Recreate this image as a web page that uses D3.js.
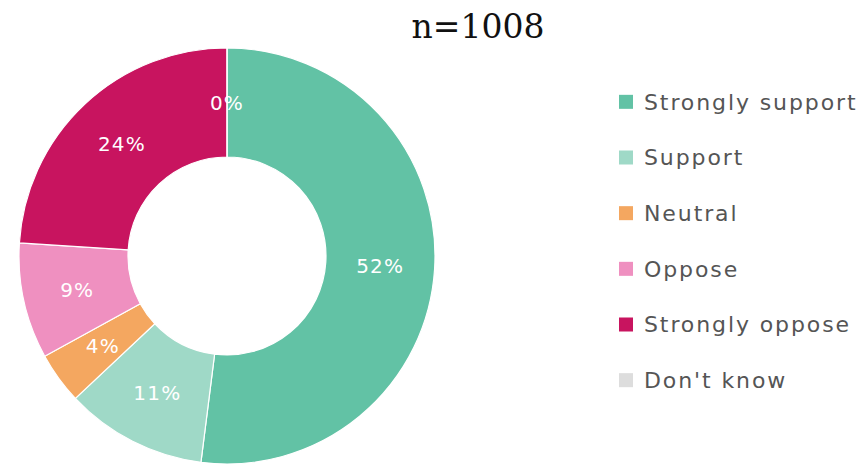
<!DOCTYPE html>
<html>
<head>
<meta charset="utf-8">
<script src="https://cdnjs.cloudflare.com/ajax/libs/d3/7.8.5/d3.min.js"></script>
<style>
  body { margin: 0; background: #fff; }
  svg { display: block; }
</style>
</head>
<body>
<div id="chart"></div>
<script>
// dati
const categories = ["Strongly support", "Support", "Neutral", "Oppose", "Strongly oppose", "Don't know"];
const values = [52, 11, 4, 9, 24, 0];
const labels = ["52%", "11%", "4%", "9%", "24%", "0%"];
const colors = ["#62c2a5", "#9fd9c7", "#f4a760", "#ef90c0", "#c8145f", "#dddddd"];
const title = "n=1008";

const width = 864, height = 466;
const cx = 227, cy = 256;
const outerR = 208, innerR = 99;

const svg = d3.select("#chart")
  .append("svg")
  .attr("width", width)
  .attr("height", height);

svg.append("text")
  .attr("x", 478)
  .attr("y", 38)
  .attr("text-anchor", "middle")
  .style("font-family", "'DejaVu Serif', serif")
  .style("font-size", "33px")
  .style("fill", "#111")
  .text(title);

const data = categories.map((c, i) => ({ cat: c, value: values[i], label: labels[i], color: colors[i] }));

const pie = d3.pie().sort(null).value(d => d.value);
const arc = d3.arc().innerRadius(innerR).outerRadius(outerR);

const donut = svg.append("g")
  .attr("transform", `translate(${cx},${cy})`);

const arcs = pie(data);

donut.selectAll("path")
  .data(arcs)
  .enter()
  .append("path")
  .attr("d", arc)
  .attr("fill", d => d.data.color)
  .attr("stroke", "#fff")
  .attr("stroke-width", 1.2);

donut.selectAll(".slice-label")
  .data(arcs)
  .enter()
  .append("text")
  .attr("class", "slice-label")
  .attr("transform", d => {
    const c = arc.centroid(d);
    return `translate(${c[0]},${c[1]})`;
  })
  .attr("text-anchor", "middle")
  .attr("dy", "0.36em")
  .style("font-family", "'DejaVu Sans', sans-serif")
  .style("font-size", "20px")
  .style("letter-spacing", "1.2px")
  .style("fill", "#fff")
  .text(d => d.data.label);

// legenda
const legY = d3.scaleBand().domain(categories).range([74, 408]);

const legend = svg.append("g");
const rows = legend.selectAll("g")
  .data(data)
  .enter()
  .append("g")
  .attr("transform", d => `translate(619,${legY(d.cat) + legY.bandwidth() / 2})`);

rows.append("rect")
  .attr("x", 0)
  .attr("y", -7)
  .attr("width", 14)
  .attr("height", 14)
  .attr("fill", d => d.color);

rows.append("text")
  .attr("x", 25)
  .attr("dy", "0.36em")
  .style("font-family", "'DejaVu Sans', sans-serif")
  .style("font-size", "22px")
  .style("letter-spacing", "1.9px")
  .style("fill", "#555")
  .text(d => d.cat);
</script>
</body>
</html>
